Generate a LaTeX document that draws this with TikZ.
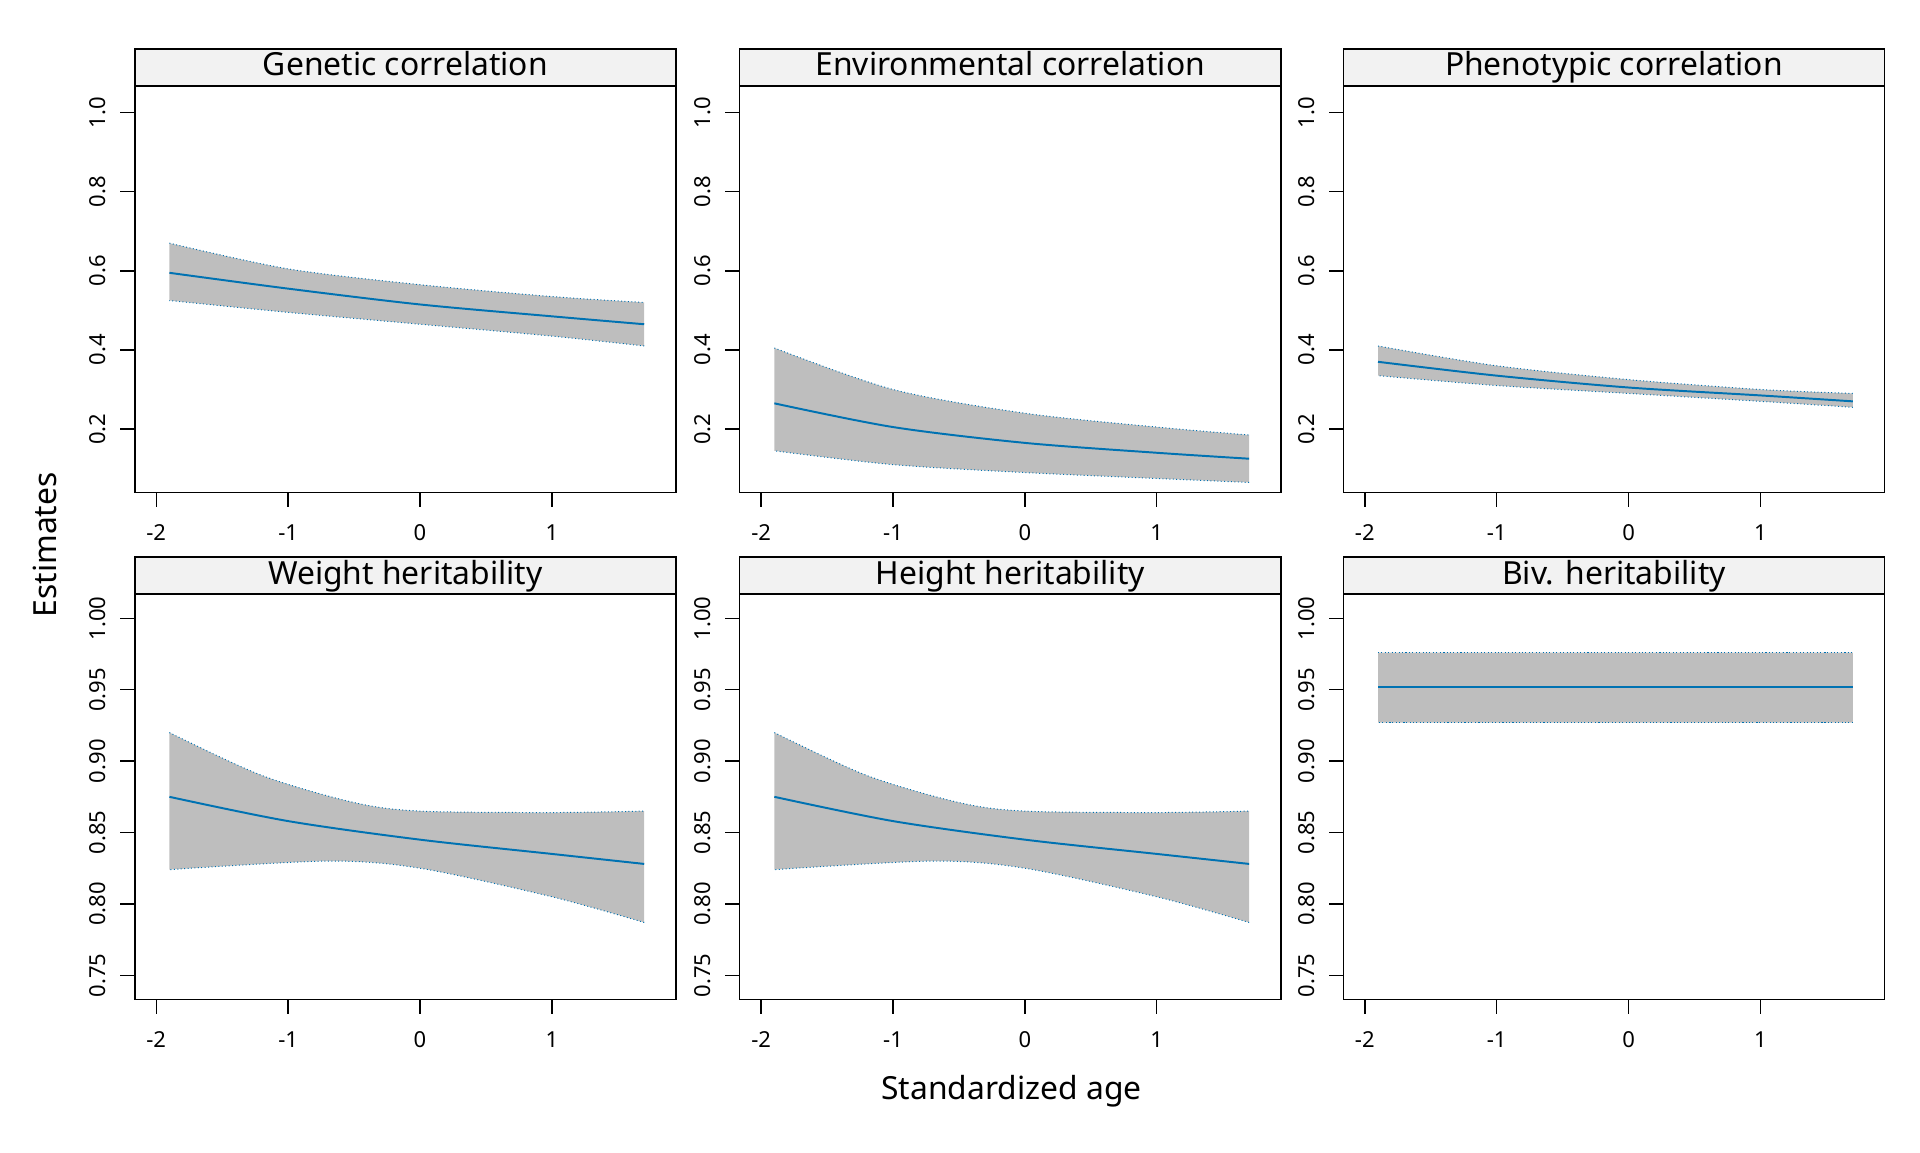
\documentclass[tikz,border=0pt]{standalone}
\usepackage{fontspec}
\setmainfont{Noto Sans}
\definecolor{rblue}{RGB}{0,114,178}
\definecolor{band}{RGB}{190,190,190}
\definecolor{strip}{RGB}{242,242,242}
\tikzset{frame/.style={draw=black,line width=1.3pt},
 stripbox/.style={draw=black,fill=strip,line width=1.3pt},
 meanline/.style={draw=rblue,line width=1.6pt},
 edgeline/.style={draw=rblue,line width=0.8pt,dotted},
 bandfill/.style={fill=band},
 tick/.style={line width=1.1pt},
 ticklab/.style={font=\fontsize{18}{18}\selectfont},
 titlelab/.style={font=\fontsize{26}{26}\selectfont,text height=19pt,text depth=5pt,inner sep=0pt},
 axlab/.style={font=\fontsize{26}{26}\selectfont}}
\newcommand{\mypanel}[9]{%
\begin{scope}[shift={(#1,#2)},x=107.7pt,y=#3pt]
 \draw[stripbox] (-2.163,#5) rectangle (1.94,#6);
 \node[titlelab] at (-0.111,{(#5+#6)/2}) {#7};
 \foreach \t in {-2,-1,0,1}{\draw[tick] (\t,#4) -- ++(0,-12pt); \node[ticklab] at (\t,#4) [yshift=-33pt] {\t};}
 \foreach \v in {#8}{\draw[tick] (-2.163,\v) -- ++(-12pt,0); \path (-2.163,\v) ++(-30pt,0) node[ticklab,rotate=90] {\pgfmathprintnumber[fixed,fixed zerofill,precision=#9,assume math mode=true]{\v}};}
\end{scope}}
\newcommand{\myband}[6]{%
\begin{scope}[shift={(#1,#2)},x=107.7pt,y=#3pt]
 \fill[bandfill] plot[smooth] coordinates {#4} -- plot[smooth] coordinates {#5} -- cycle;
 \draw[edgeline] plot[smooth] coordinates {#4};
 \draw[edgeline] plot[smooth] coordinates {#5};
 \draw[meanline] plot[smooth] coordinates {#6};
\end{scope}}
\newcommand{\myframe}[5]{\begin{scope}[shift={(#1,#2)},x=107.7pt,y=#3pt]\draw[frame] (-2.163,#4) rectangle (1.94,#5);\end{scope}}
\begin{document}
\begin{tikzpicture}[x=1pt,y=1pt]
\useasboundingbox (0,0) rectangle (1568,941);
\foreach \xo/\tt in {343/Genetic correlation,837/Environmental correlation,1330/Phenotypic correlation}{
 \mypanel{\xo}{526}{323}{0.04}{1.068}{1.161}{\tt}{0.2,0.4,0.6,0.8,1.0}{1}}
\foreach \xo/\tt in {343/Weight heritability,837/Height heritability,1330/Biv. heritability}{
 \mypanel{\xo}{-730}{1166}{0.733}{1.017}{1.043}{\tt}{0.75,0.80,0.85,0.90,0.95,1.00}{2}}
\myband{343}{526}{323}{(-1.9,0.67) (-1,0.605) (0,0.565) (1,0.535) (1.7,0.52)}{(1.7,0.41) (1,0.435) (0,0.465) (-1,0.495) (-1.9,0.525)}{(-1.9,0.595) (-1,0.555) (0,0.515) (1,0.485) (1.7,0.465)}
\myband{837}{526}{323}{(-1.9,0.405) (-1,0.30) (0,0.24) (1,0.205) (1.7,0.185)}{(1.7,0.065) (1,0.075) (0,0.09) (-1,0.11) (-1.9,0.145)}{(-1.9,0.265) (-1,0.205) (0,0.165) (1,0.14) (1.7,0.125)}
\myband{1330}{526}{323}{(-1.9,0.41) (-1,0.36) (0,0.325) (1,0.30) (1.7,0.29)}{(1.7,0.255) (1,0.27) (0,0.29) (-1,0.31) (-1.9,0.335)}{(-1.9,0.37) (-1,0.335) (0,0.305) (1,0.285) (1.7,0.27)}
\foreach \xo in {343,837}{
\myband{\xo}{-730}{1166}{(-1.9,0.92) (-1.2,0.89) (-0.5,0.871) (0,0.865) (1,0.864) (1.7,0.865)}{(1.7,0.787) (1,0.805) (0,0.825) (-0.7,0.83) (-1.9,0.824)}{(-1.9,0.875) (-1,0.858) (0,0.845) (1,0.835) (1.7,0.828)}}
\myband{1330}{-730}{1166}{(-1.9,0.976) (1.7,0.976)}{(1.7,0.927) (-1.9,0.927)}{(-1.9,0.952) (1.7,0.952)}
\foreach \xo in {343,837,1330}{\myframe{\xo}{526}{323}{0.04}{1.068}\myframe{\xo}{-730}{1166}{0.733}{1.017}}
\node[axlab,rotate=90] (ylab) at (37,496) {Estimates};
\node[axlab] (xlab) at (826,50) {Standardized age};
\end{tikzpicture}
\end{document}
